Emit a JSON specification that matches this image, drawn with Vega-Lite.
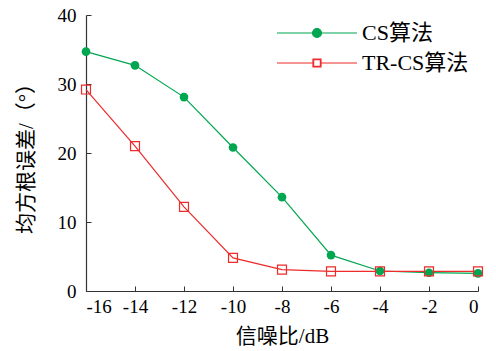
{
  "$schema": "https://vega.github.io/schema/vega-lite/v6.json",
  "width": 392,
  "height": 276,
  "autosize": "none",
  "padding": {"left": 86, "top": 15, "right": 18, "bottom": 60},
  "background": "white",
  "config": {
    "view": {"stroke": null},
    "font": "Liberation Serif, Noto Sans CJK SC",
    "axis": {
      "grid": false,
      "domainColor": "#333333",
      "tickColor": "#333333",
      "labelColor": "#000000",
      "titleColor": "#000000",
      "labelFont": "Liberation Serif",
      "labelFontSize": 19,
      "titleFont": "Liberation Serif, Noto Sans CJK SC",
      "titleFontSize": 21,
      "titleFontWeight": "normal",
      "tickSize": -5,
      "domainWidth": 1.2,
      "tickWidth": 1,
      "labelExpr": "datum.value < 0 ? '-' + abs(datum.value) : '' + datum.value"
    }
  },
  "data": {
    "values": [
      {"snr": -16, "rmse": 34.7, "series": "CS算法"},
      {"snr": -14, "rmse": 32.7, "series": "CS算法"},
      {"snr": -12, "rmse": 28.1, "series": "CS算法"},
      {"snr": -10, "rmse": 20.8, "series": "CS算法"},
      {"snr": -8, "rmse": 13.6, "series": "CS算法"},
      {"snr": -6, "rmse": 5.2, "series": "CS算法"},
      {"snr": -4, "rmse": 2.9, "series": "CS算法"},
      {"snr": -2, "rmse": 2.65, "series": "CS算法"},
      {"snr": 0, "rmse": 2.55, "series": "CS算法"},
      {"snr": -16, "rmse": 29.2, "series": "TR-CS算法"},
      {"snr": -14, "rmse": 21.0, "series": "TR-CS算法"},
      {"snr": -12, "rmse": 12.2, "series": "TR-CS算法"},
      {"snr": -10, "rmse": 4.8, "series": "TR-CS算法"},
      {"snr": -8, "rmse": 3.1, "series": "TR-CS算法"},
      {"snr": -6, "rmse": 2.85, "series": "TR-CS算法"},
      {"snr": -4, "rmse": 2.85, "series": "TR-CS算法"},
      {"snr": -2, "rmse": 2.85, "series": "TR-CS算法"},
      {"snr": 0, "rmse": 2.85, "series": "TR-CS算法"}
    ]
  },
  "encoding": {
    "x": {
      "field": "snr", "type": "quantitative",
      "scale": {"domain": [-16, 0], "nice": false, "zero": false},
      "axis": {"values": [-16, -14, -12, -10, -8, -6, -4, -2, 0], "title": "信噪比/dB", "labelPadding": 11, "titlePadding": 9}
    },
    "y": {
      "field": "rmse", "type": "quantitative",
      "scale": {"domain": [0, 40], "nice": false},
      "axis": {"values": [0, 10, 20, 30, 40], "title": "均方根误差/（°）", "labelPadding": 15, "titlePadding": 21}
    },
    "color": {
      "field": "series", "type": "nominal",
      "scale": {"domain": ["CS算法", "TR-CS算法"], "range": ["#00a650", "#ee2a2a"]}
    }
  },
  "layer": [
    {
      "mark": {"type": "line", "strokeWidth": 1.2},
      "encoding": {
        "color": {
          "field": "series", "type": "nominal",
          "legend": {
            "orient": "none",
            "legendX": 220,
            "legendY": 7,
            "title": null,
            "padding": 0,
            "symbolSize": 400,
            "symbolStrokeWidth": 1.2,
            "labelFont": "Liberation Serif, Noto Sans CJK SC",
            "labelFontSize": 22,
            "labelColor": "#000000",
            "labelOffset": 34,
            "rowPadding": 8,
            "encode": {
              "symbols": {
                "update": {
                  "shape": {"signal": "datum.value === 'CS算法' ? 'M-4,0H4M-0.45,0A0.45,0.45 0 1,0 0.45,0A0.45,0.45 0 1,0 -0.45,0Z' : 'M-4,0H-0.4M0.4,0H4M-0.4,-0.4H0.4V0.4H-0.4ZM-0.34,-0.34V0.34H0.34V-0.34Z'"},
                  "strokeWidth": {"value": 1.2}
                }
              }
            }
          }
        }
      }
    },
    {
      "transform": [{"filter": "datum.series === 'CS算法'"}],
      "mark": {"type": "point", "shape": "circle", "filled": true, "size": 75, "opacity": 1}
    },
    {
      "transform": [{"filter": "datum.series === 'TR-CS算法'"}],
      "mark": {"type": "point", "shape": "square", "filled": false, "size": 80, "strokeWidth": 1.2, "opacity": 1}
    }
  ]
}
